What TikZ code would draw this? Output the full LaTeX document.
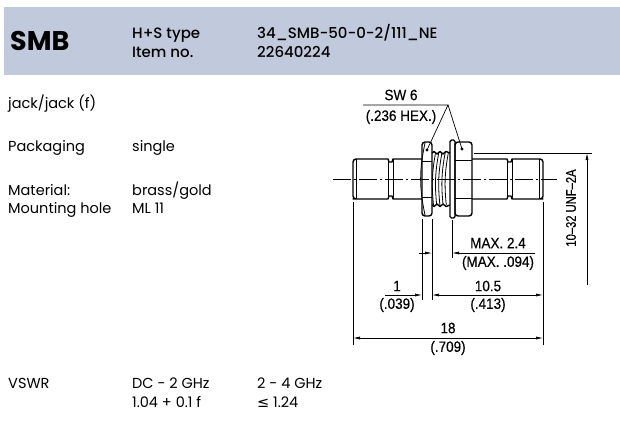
\documentclass[tikz,border=0pt]{standalone}
\usepackage{fontspec}
\setmainfont{Poppins}
\newfontfamily\medfont{Poppins Medium}
\newfontfamily\isofont[FakeStretch=0.9,FakeBold=0.4]{Liberation Sans}
\newfontfamily\isonarrow[FakeStretch=0.8,FakeBold=0.4]{Liberation Sans}
\newfontfamily\symfont{DejaVu Sans}
\usetikzlibrary{arrows.meta}
\definecolor{band}{RGB}{193,202,220}
\begin{document}
\begin{tikzpicture}[x=1pt,y=-1pt,
  txt/.style={inner sep=0pt, anchor=base west, font=\fontsize{14.5}{16}\selectfont},
  hdr/.style={inner sep=0pt, anchor=base west, font=\medfont\fontsize{15}{17}\selectfont},
  dimtxt/.style={inner sep=0pt, font=\isofont\fontsize{15}{17}\selectfont},
  outl/.style={line width=1.4pt, line join=round},
  fine/.style={line width=0.7pt},
  arr/.style={fine, -{Latex[length=7pt,width=3pt]}},
  darr/.style={fine, {Latex[length=7pt,width=3pt]}-{Latex[length=7pt,width=3pt]}}]
\useasboundingbox (0,0) rectangle (620,420);
\fill[band] (4,7) rectangle (620,75);
% header
\node[inner sep=0pt, anchor=base west, font=\bfseries\fontsize{27}{29}\selectfont] (smb) at (10,51) {SMB};
\node[hdr] (hstype) at (132,38) {H+S type};
\node[hdr] (itemno) at (132,57) {Item no.};
\node[hdr] (typeval) at (257,38) {34\_SMB-50-0-2/111\_NE};
\node[hdr] (itemval) at (257,57) {22640224};
% left texts
\node[txt] (jack) at (8,108) {jack/jack (f)};
\node[txt] (pack) at (8,151) {Packaging};
\node[txt] (packv) at (132,151) {single};
\node[txt] (mat) at (8,195) {Material:};
\node[txt] (matv) at (132,195) {brass/gold};
\node[txt] (mount) at (8,213) {Mounting hole};
\node[txt] (mountv) at (132,213) {ML 11};
\node[txt] (vswr) at (8,388) {VSWR};
\node[txt] (vswr1) at (132,388) {DC - 2 GHz};
\node[txt] (vswr2) at (257,388) {2 - 4 GHz};
\node[txt] (vswr1v) at (132,407) {1.04 + 0.1 f};
\node[txt] (vswr2v) at (257,407) {{\symfont ≤} 1.24};
% ---- connector drawing ----
% centre line
\draw[fine, dash pattern=on 18pt off 3pt on 2pt off 3pt] (333,179) -- (557,179);
% left jack
\draw[outl] (422,159) -- (393,159) -- (392,162) -- (389,162) -- (388,159) -- (356,159)
  [rounded corners=3pt] -- (353,159) -- (353,199) -- (356,199) [sharp corners]
  -- (388,199) -- (389,196) -- (392,196) -- (393,199) -- (422,199);
\draw[line width=1pt] (356.5,159) -- (356.5,199) (388,159) -- (388,199) (393,159) -- (393,199);
% right jack
\draw[outl] (472,159) -- (507,159) -- (508,162) -- (511,162) -- (512,159) -- (540,159)
  [rounded corners=3pt] -- (543,159) -- (543,199) -- (540,199) [sharp corners]
  -- (512,199) -- (511,196) -- (508,196) -- (507,199) -- (472,199);
\draw[line width=1pt] (539.5,159) -- (539.5,199) (507,159) -- (507,199) (512,159) -- (512,199);
% left nut
\draw[outl, rounded corners=3pt] (422,142) rectangle (432,216);
\draw[line width=1pt] (422,161) -- (432,161) (422,197) -- (432,197);
\draw[line width=0.8pt] (425,143) to[bend right=12] (425,215);
% thread
\draw[outl] (432,153) -- (434,151.5) -- (437,154) -- (440,151.5) -- (443,154) -- (446,151.5) -- (450,153);
\draw[outl] (432,205) -- (434,206.5) -- (437,204) -- (440,206.5) -- (443,204) -- (446,206.5) -- (450,205);
\foreach \k in {0,...,4} {
  \draw[line width=0.8pt] (435.5+3.2*\k,153) to[bend right=8] (433.5+3.2*\k,205);
}
% washer
\draw[outl, rounded corners=1.5pt] (450,140) rectangle (455,218);
% right nut
\draw[outl, rounded corners=3pt] (455,142) rectangle (472,216);
\draw[line width=1pt] (455,160) -- (472,160) (455,198) -- (472,198);
% SW 6 leaders
\coordinate (apex) at (448,105);
\coordinate (dotl) at (427,150);
\coordinate (dotr) at (462,149);
\coordinate (ulstart) at (363,105);
\fill (dotl) circle (1.7);
\fill (dotr) circle (1.7);
\draw[fine] (ulstart) -- (apex) -- (dotl);
\draw[fine] (apex) -- (dotr);
\node[dimtxt] (sw) at (401,95) {SW 6};
\node[dimtxt] (swi) at (401,117) {(.236 HEX.)};
% extension lines
\draw[fine] (353,202) -- (353,345);
\draw[fine] (543,202) -- (543,345);
\draw[fine] (422,219) -- (422,300);
\draw[fine] (432,219) -- (432,300);
\draw[fine] (452,220) -- (452,258);
\draw[fine] (474,153) -- (592,153);
% dimension: MAX 2.4
\coordinate (m1) at (419,253); \coordinate (m1t) at (432,253);
\coordinate (m2) at (535,253); \coordinate (m2t) at (452,253);
\draw[arr] (m1) -- (m1t);
\draw[arr] (m2) -- (m2t);
\node[dimtxt] (max) at (498,243) {MAX. 2.4};
\node[dimtxt] (maxi) at (498,263) {(MAX. .094)};
% dimension: 1 and 10.5
\coordinate (o1) at (385,295); \coordinate (o1t) at (422,295);
\coordinate (t1) at (432,295); \coordinate (t2) at (543,295);
\draw[arr] (o1) -- (o1t);
\draw[darr] (t1) -- (t2);
\node[dimtxt] (one) at (397,286) {1};
\node[dimtxt] (onei) at (397,305) {(.039)};
\node[dimtxt] (ten) at (488,286) {10.5};
\node[dimtxt] (teni) at (488,305) {(.413)};
% dimension: 18
\coordinate (e1) at (353,338); \coordinate (e2) at (543,338);
\draw[darr] (e1) -- (e2);
\node[dimtxt] (eight) at (448,328) {18};
\node[dimtxt] (eighti) at (448,348) {(.709)};
% dimension: thread
\coordinate (th1) at (587,285); \coordinate (th2) at (587,153);
\draw[arr] (th1) -- (th2);
\node[inner sep=0pt, font=\isonarrow\fontsize{14}{16}\selectfont, rotate=90] (thr) at (571,208) {10–32 UNF–2A};
\end{tikzpicture}
\end{document}
